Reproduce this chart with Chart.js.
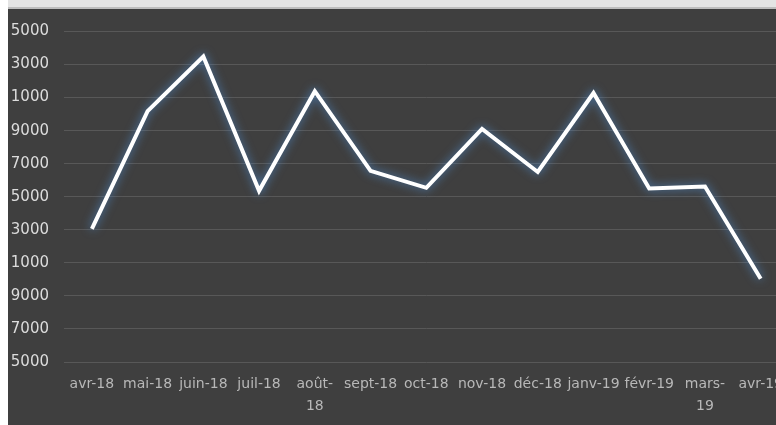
<!DOCTYPE html>
<html>
<head>
<meta charset="utf-8">
<script src="https://cdn.jsdelivr.net/npm/chart.js@4.4.1/dist/chart.umd.min.js"></script>
<style>
	html, body { margin: 0; padding: 0; background: #ffffff; overflow: hidden; width: 776px; height: 425px; }
	#topbar { position: absolute; left: 8px; top: 0; width: 786px; height: 7px; background: #e4e4e4; border-bottom: 2px solid #bdbdbd; }
	#wrap { position: absolute; left: 8px; top: 9px; width: 786px; height: 416px; background: #3f3f3f; }
	#myChart { display: block; }
</style>
</head>
<body>
<div id="topbar"></div>
<div id="wrap"><canvas id="myChart" width="786" height="416"></canvas></div>
<script>
// 월별 값
const months = ['avr-18', 'mai-18', 'juin-18', 'juil-18', ['août-', '18'], 'sept-18', 'oct-18', 'nov-18', 'déc-18', 'janv-19', 'févr-19', ['mars-', '19'], 'avr-19'];
const values = [13050, 20180, 23490, 15360, 21390, 16570, 15540, 19100, 16500, 21280, 15500, 15620, 10040];
// 잘려 보이는 y축 라벨 (아래에서 위로)
const yTickLabels = ['5000', '7000', '9000', '1000', '3000', '5000', '7000', '9000', '1000', '3000', '5000'];

// 선 주위의 푸른 빛
const glow = {
	id: 'glow',
	beforeDatasetDraw(chart) {
		const ctx = chart.ctx;
		ctx.save();
		ctx.shadowColor = 'rgba(80,145,215,0.85)';
		ctx.shadowBlur = 10;
	},
	afterDatasetDraw(chart) {
		chart.ctx.restore();
	}
};

let ctx = document.getElementById('myChart').getContext('2d');
let myChart = new Chart(ctx, {
	type: 'line',
	data: {
		labels: months,
		datasets: [{
			data: values,
			borderColor: '#ffffff',
			borderWidth: 4,
			pointRadius: 0,
			tension: 0,
			fill: false
		}]
	},
	options: {
		responsive: false,
		animation: false,
		layout: { padding: { top: 21, right: 0, left: 0, bottom: 0 } },
		plugins: {
			legend: { display: false },
			tooltip: { enabled: false }
		},
		scales: {
			x: {
				offset: true,
				grid: { display: false, drawTicks: false },
				border: { display: false },
				ticks: {
					color: '#b8b8b8',
					font: { family: 'DejaVu Sans', size: 14, lineHeight: 1.6 },
					maxRotation: 0,
					autoSkip: false,
					padding: 11
				},
				afterFit: (scale) => { scale.height = 63; }
			},
			y: {
				min: 5000,
				max: 25000,
				grid: { color: '#585858', lineWidth: 1, drawTicks: false },
				border: { display: false },
				ticks: {
					stepSize: 2000,
					color: '#dcdcdc',
					font: { family: 'DejaVu Sans', size: 15, lineHeight: 1 },
					padding: 15,
					callback: (v, i) => yTickLabels[i]
				},
				afterFit: (scale) => { scale.width = 56; }
			}
		}
	},
	plugins: [glow]
});
</script>
</body>
</html>
